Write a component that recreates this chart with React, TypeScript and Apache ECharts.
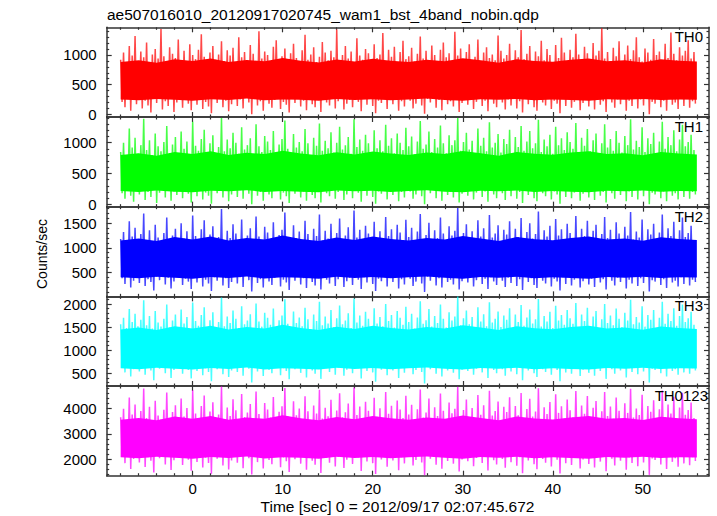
import React, { useEffect, useRef } from "react";
import * as echarts from "echarts";

// ---- data (counts/sec) ----
const TITLE = "ae507016010_20120917020745_wam1_bst_4band_nobin.qdp";
const X_TITLE = "Time [sec] 0 = 2012/09/17 02:07:45.672";
const Y_TITLE = "Counts/sec";
const PANEL_NAMES = ["TH0", "TH1", "TH2", "TH3", "TH0123"];
const PANEL_COLORS = ["#ff0000", "#00ff00", "#0000ff", "#00ffff", "#ff00ff"];

const T_START = -8; // first sample time (s)
const T_STEP = 0.16; // time between consecutive samples (s)
const X_MAJOR = [0, 10, 20, 30, 40, 50];
const X_MINOR = [-8, -6, -4, -2, 2, 4, 6, 8, 12, 14, 16, 18, 22, 24, 26, 28, 32, 34, 36, 38, 42, 44, 46, 48, 52, 54, 56];

const Y_RANGES = [
  [-45, 1467],
  [-38, 1417],
  [9, 1840],
  [225, 2166],
  [1357, 4874],
];
const Y_MAJOR = [
  [0, 500, 1000],
  [0, 500, 1000],
  [500, 1000, 1500],
  [500, 1000, 1500, 2000],
  [2000, 3000, 4000],
];
const Y_MINOR = [
  [100, 200, 300, 400, 600, 700, 800, 900, 1100, 1200, 1300, 1400],
  [100, 200, 300, 400, 600, 700, 800, 900, 1100, 1200, 1300, 1400],
  [100, 200, 300, 400, 600, 700, 800, 900, 1100, 1200, 1300, 1400, 1600, 1700, 1800],
  [300, 400, 600, 700, 800, 900, 1100, 1200, 1300, 1400, 1600, 1700, 1800, 1900, 2100],
  [1400, 1600, 1800, 2200, 2400, 2600, 2800, 3200, 3400, 3600, 3800, 4200, 4400, 4600, 4800],
];

// upper excursions (one every 0.32 s) and lower excursions (in between)
const th0High = [
  920, 1040, 880, 1150, 990, 1320, 900, 1060, 960, 1210, 870, 1010, 1100, 940, 1440, 980, 890, 1130, 1020, 950,
  1260, 910, 1070, 860, 1180, 1000, 930, 1090, 1350, 970, 880, 1040, 1150, 920, 1010, 1230, 900, 1080, 990, 1120,
  870, 1300, 960, 1050, 910, 1170, 1020, 880, 1400, 940, 1060, 1000, 890, 1140, 1250, 930, 980, 1110, 870, 1030,
  1190, 950, 900, 1080, 1340, 920, 1010, 1130, 880, 970, 1220, 1040, 910, 1070, 960, 1430, 890, 1000, 1150, 940,
  1060, 870, 1280, 990, 920, 1100, 1030, 880, 1180, 950, 1010, 1370, 900, 1090, 970, 1140, 860, 1050, 1240, 930,
  980, 1120, 890, 1020, 1310, 940, 1070, 910, 1160, 1000, 870, 1090, 1210, 960, 1030, 880, 1390, 990, 1110, 920,
  1050, 1180, 900, 970, 1260, 880, 1040, 1130, 950, 1010, 910, 1330, 1070, 940, 1000, 1190, 870, 1080, 960, 1420,
  930, 1020, 1150, 890, 1060, 980, 1240, 910, 1100, 1000, 870, 1170, 950, 1290, 1040, 900, 1090, 960, 1360, 1010,
  880, 1140, 1030, 920, 1200, 990, 1070, 1450, 940, 1050, 900, 1120, 980, 1230, 870, 1010, 1160, 930, 1080, 1300,
  960, 890, 1110, 1040, 920, 1270, 1000, 1060, 880, 1190, 950, 1380, 1020, 910, 1130, 990, 1070, 1250, 940, 1050,
];
const th0Low = [
  210, 120, 290, 60, 250, 170, 320, 100, 230, 150, 30, 270, 190, 310, 80, 220, 140, 260, 40, 200,
  300, 110, 240, 180, 70, 280, 160, 330, 90, 210, 130, 20, 260, 190, 300, 120, 230, 50, 170, 290,
  140, 250, 100, 310, 200, 0, 270, 150, 220, 60, 320, 180, 110, 240, 280, 90, 210, 160, 30, 260,
  190, 300, 130, 230, 70, 280, 170, 120, 250, 40, 310, 200, 150, 270, 100, 220, 330, 80, 180, 240,
  120, 290, 210, 50, 260, 160, 310, 140, 20, 230, 190, 280, 90, 250, 170, 300, 60, 220, 130, 270,
  230, 100, 180, 320, 150, 10, 260, 200, 290, 110, 240, 70, 300, 170, 220, 130, 280, 40, 190, 250,
  160, 270, 90, 210, 310, 140, 230, 50, 260, 180, 120, 300, 200, 80, 250, 150, 320, 100, 220, 30,
  280, 170, 240, 120, 60, 290, 200, 150, 310, 90, 230, 180, 20, 260, 140, 300, 110, 210, 250, 70,
  190, 320, 130, 240, 80, 270, 160, 220, 40, 290, 200, 110, 250, 170, 310, 60, 230, 140, 280, 100,
  250, 150, 300, 0, 210, 180, 270, 120, 230, 60, 290, 160, 200, 90, 260, 140, 310, 110, 220, 180,
];

const th1High = [
  850, 1000, 790, 1230, 920, 1080, 820, 960, 1390, 880, 1040, 800, 1150, 940, 860, 1010, 1270, 830, 970, 1090,
  810, 1180, 900, 1020, 790, 1340, 950, 870, 1060, 1210, 840, 990, 1120, 800, 930, 1400, 860, 1050, 910, 1160,
  1000, 820, 1250, 890, 960, 1070, 790, 1300, 940, 850, 1110, 1020, 880, 1190, 810, 970, 1060, 1360, 900, 830,
  1140, 920, 1010, 860, 1220, 990, 800, 1080, 950, 1310, 870, 1030, 910, 1170, 840, 1000, 1260, 890, 960, 1090,
  820, 1380, 930, 1050, 870, 1130, 990, 800, 1200, 910, 1040, 860, 1290, 950, 1070, 830, 1150, 1000, 880, 1240,
  940, 1100, 810, 1020, 1350, 900, 970, 1180, 850, 1060, 920, 1280, 990, 830, 1120, 960, 1040, 1400, 870, 1010,
  1160, 890, 1030, 800, 1230, 950, 1080, 860, 1330, 920, 1000, 1140, 840, 1060, 980, 1210, 810, 1090, 930, 1270,
  870, 1020, 1190, 910, 990, 1370, 850, 1050, 940, 1130, 820, 1260, 960, 1070, 880, 1170, 1010, 900, 1320, 830,
  1080, 950, 1220, 860, 1040, 1150, 800, 990, 1300, 920, 1060, 870, 1190, 1000, 840, 1110, 960, 1380, 890, 1030,
  930, 1250, 850, 1070, 980, 1160, 820, 1020, 1340, 900, 1090, 960, 1200, 860, 1050, 1290, 940, 1010, 1130, 880,
];
const th1Low = [
  180, 90, 250, 140, 40, 220, 160, 290, 70, 200, 120, 260, 20, 190, 240, 110, 280, 60, 210, 150,
  270, 100, 230, 170, 30, 250, 130, 300, 80, 190, 140, 10, 240, 180, 280, 110, 220, 50, 160, 260,
  120, 230, 90, 290, 170, 0, 250, 140, 200, 60, 300, 160, 100, 220, 270, 80, 190, 130, 20, 240,
  170, 280, 110, 210, 60, 260, 150, 100, 230, 30, 290, 180, 130, 250, 90, 200, 310, 70, 160, 220,
  100, 270, 190, 40, 240, 140, 290, 120, 10, 210, 170, 260, 80, 230, 150, 280, 50, 200, 110, 250,
  210, 90, 160, 300, 130, 0, 240, 180, 270, 100, 220, 60, 280, 150, 200, 110, 260, 30, 170, 230,
  140, 250, 80, 190, 290, 120, 210, 40, 240, 160, 100, 280, 180, 70, 230, 130, 300, 90, 200, 20,
  260, 150, 220, 100, 50, 270, 180, 130, 290, 80, 210, 160, 10, 240, 120, 280, 100, 190, 230, 60,
  170, 300, 110, 220, 70, 250, 140, 200, 30, 270, 180, 90, 230, 150, 290, 50, 210, 120, 260, 80,
  230, 130, 280, 0, 190, 160, 250, 100, 210, 50, 270, 140, 180, 80, 240, 120, 290, 90, 200, 160,
];

const th2High = [
  1180, 1320, 1090, 1540, 1230, 1410, 1120, 1280, 1700, 1150, 1360, 1070, 1470, 1210, 1130, 1300, 1620, 1100, 1250, 1390,
  1080, 1500, 1190, 1340, 1060, 1660, 1240, 1140, 1380, 1560, 1110, 1270, 1440, 1070, 1220, 1790, 1130, 1350, 1200, 1480,
  1290, 1090, 1580, 1170, 1250, 1400, 1060, 1640, 1230, 1120, 1430, 1310, 1160, 1520, 1080, 1260, 1370, 1720, 1180, 1100,
  1460, 1200, 1330, 1130, 1550, 1280, 1070, 1390, 1240, 1680, 1150, 1350, 1190, 1490, 1110, 1300, 1600, 1170, 1250, 1420,
  1090, 1760, 1210, 1370, 1140, 1450, 1290, 1070, 1530, 1190, 1340, 1130, 1630, 1240, 1380, 1100, 1470, 1310, 1160, 1570,
  1220, 1410, 1080, 1330, 1690, 1180, 1260, 1510, 1120, 1360, 1200, 1620, 1290, 1100, 1440, 1250, 1350, 1810, 1150, 1300,
  1480, 1170, 1340, 1070, 1560, 1230, 1400, 1130, 1670, 1210, 1290, 1460, 1110, 1370, 1270, 1540, 1080, 1390, 1220, 1610,
  1140, 1320, 1500, 1190, 1280, 1740, 1120, 1360, 1230, 1450, 1090, 1590, 1250, 1380, 1160, 1490, 1300, 1180, 1650, 1100,
  1390, 1240, 1550, 1130, 1350, 1470, 1070, 1280, 1630, 1200, 1370, 1150, 1520, 1290, 1110, 1430, 1250, 1730, 1170, 1330,
  1210, 1580, 1120, 1380, 1270, 1490, 1090, 1310, 1680, 1180, 1400, 1240, 1530, 1140, 1360, 1620, 1220, 1300, 1450, 1160,
];
const th2Low = [
  380, 260, 450, 190, 330, 420, 280, 480, 220, 360, 300, 130, 410, 340, 470, 250, 390, 170, 310, 440,
  460, 240, 370, 310, 160, 430, 290, 490, 210, 350, 270, 120, 400, 330, 450, 230, 380, 180, 300, 420,
  270, 400, 200, 470, 340, 110, 430, 280, 360, 190, 480, 310, 240, 390, 440, 210, 350, 290, 140, 410,
  330, 450, 250, 380, 180, 440, 300, 230, 410, 150, 470, 350, 270, 420, 220, 360, 490, 200, 320, 390,
  240, 430, 350, 160, 400, 290, 460, 260, 120, 370, 320, 440, 210, 390, 300, 470, 170, 360, 250, 420,
  370, 220, 310, 480, 270, 100, 410, 330, 450, 230, 380, 190, 460, 300, 350, 250, 430, 150, 320, 390,
  290, 420, 210, 340, 470, 260, 370, 160, 400, 310, 240, 450, 330, 200, 390, 280, 490, 220, 360, 140,
  430, 300, 380, 240, 180, 440, 330, 270, 470, 210, 370, 310, 130, 400, 260, 450, 230, 350, 390, 190,
  320, 480, 250, 370, 200, 420, 290, 360, 150, 440, 330, 230, 390, 300, 460, 170, 350, 270, 430, 220,
  380, 280, 450, 110, 340, 310, 420, 240, 360, 180, 440, 290, 330, 210, 400, 260, 470, 230, 350, 300,
];

const th3High = [
  1560, 1700, 1480, 1890, 1610, 1790, 1520, 1660, 2080, 1540, 1740, 1470, 1850, 1600, 1510, 1680, 1990, 1490, 1640, 1770,
  1470, 1880, 1580, 1720, 1450, 2030, 1630, 1530, 1760, 1930, 1500, 1650, 1820, 1460, 1610, 2140, 1520, 1730, 1590, 1860,
  1680, 1480, 1950, 1560, 1640, 1780, 1450, 2010, 1620, 1510, 1810, 1700, 1550, 1900, 1470, 1650, 1750, 2100, 1570, 1490,
  1840, 1590, 1710, 1520, 1920, 1670, 1460, 1770, 1630, 2050, 1540, 1730, 1580, 1870, 1500, 1690, 1970, 1560, 1640, 1800,
  1480, 2120, 1600, 1750, 1530, 1830, 1680, 1460, 1910, 1580, 1720, 1520, 2000, 1630, 1760, 1490, 1850, 1700, 1550, 1940,
  1610, 1790, 1470, 1710, 2060, 1570, 1650, 1890, 1510, 1740, 1590, 1990, 1680, 1490, 1820, 1640, 1730, 2160, 1540, 1690,
  1860, 1560, 1720, 1460, 1930, 1620, 1780, 1520, 2040, 1600, 1680, 1840, 1500, 1750, 1660, 1910, 1470, 1770, 1610, 1980,
  1530, 1710, 1880, 1580, 1670, 2110, 1510, 1740, 1620, 1830, 1480, 1960, 1640, 1760, 1550, 1870, 1690, 1570, 2020, 1490,
  1770, 1630, 1920, 1520, 1730, 1850, 1460, 1670, 2000, 1590, 1750, 1540, 1900, 1680, 1500, 1810, 1640, 2090, 1560, 1720,
  1600, 1950, 1510, 1760, 1660, 1870, 1480, 1700, 2050, 1570, 1790, 1630, 1910, 1530, 1740, 1990, 1610, 1690, 1830, 1550,
];
const th3Low = [
  640, 520, 710, 430, 590, 680, 540, 740, 470, 620, 560, 350, 670, 600, 730, 500, 650, 400, 570, 700,
  720, 490, 630, 570, 390, 690, 550, 750, 460, 610, 530, 330, 660, 590, 710, 480, 640, 420, 560, 680,
  530, 660, 450, 730, 600, 300, 690, 540, 620, 440, 740, 570, 500, 650, 700, 460, 610, 550, 370, 670,
  590, 710, 510, 640, 410, 700, 560, 490, 670, 380, 730, 610, 530, 680, 470, 620, 750, 450, 580, 650,
  500, 690, 610, 390, 660, 550, 720, 520, 320, 630, 580, 700, 460, 650, 560, 730, 400, 620, 510, 680,
  630, 480, 570, 740, 530, 280, 670, 590, 710, 490, 640, 430, 720, 560, 610, 510, 690, 370, 580, 650,
  550, 680, 470, 600, 730, 520, 630, 400, 660, 570, 500, 710, 590, 450, 650, 540, 750, 480, 620, 350,
  690, 560, 640, 500, 420, 700, 590, 530, 730, 470, 630, 570, 330, 660, 520, 710, 490, 610, 650, 440,
  580, 740, 510, 630, 450, 680, 550, 620, 380, 700, 590, 490, 650, 560, 720, 410, 610, 530, 690, 480,
  640, 540, 710, 300, 600, 570, 680, 500, 620, 430, 700, 550, 590, 470, 660, 520, 730, 490, 610, 560,
];

const th0123High = [
  3650, 3980, 3520, 4420, 3760, 4150, 3580, 3890, 4780, 3620, 4060, 3500, 4300, 3720, 3560, 3940, 4620, 3540, 3850, 4120,
  3510, 4380, 3680, 4010, 3450, 4710, 3800, 3590, 4090, 4500, 3530, 3870, 4240, 3480, 3760, 4850, 3570, 4030, 3700, 4350,
  3920, 3520, 4560, 3660, 3830, 4170, 3460, 4660, 3780, 3550, 4210, 3950, 3640, 4440, 3490, 3860, 4080, 4800, 3690, 3540,
  4280, 3730, 3990, 3580, 4470, 3880, 3470, 4110, 3800, 4730, 3600, 4020, 3690, 4330, 3520, 3910, 4590, 3650, 3840, 4190,
  3500, 4820, 3740, 4070, 3570, 4260, 3900, 3460, 4410, 3670, 4000, 3560, 4640, 3790, 4100, 3510, 4310, 3950, 3620, 4490,
  3760, 4140, 3480, 3960, 4740, 3640, 3830, 4380, 3540, 4040, 3700, 4580, 3900, 3520, 4230, 3810, 3980, 4840, 3590, 3930,
  4340, 3630, 4010, 3470, 4520, 3750, 4120, 3560, 4690, 3720, 3890, 4270, 3520, 4060, 3850, 4430, 3480, 4090, 3730, 4600,
  3580, 3970, 4370, 3680, 3870, 4790, 3530, 4040, 3780, 4250, 3490, 4550, 3820, 4080, 3600, 4340, 3920, 3650, 4680, 3510,
  4110, 3790, 4480, 3550, 4020, 4290, 3460, 3880, 4640, 3700, 4070, 3590, 4420, 3900, 3510, 4200, 3820, 4770, 3640, 3990,
  3740, 4530, 3540, 4090, 3860, 4320, 3490, 3960, 4700, 3660, 4150, 3800, 4450, 3570, 4030, 4610, 3750, 3930, 4230, 3620,
];
const th0123Low = [
  2120, 1850, 2280, 1620, 2010, 2210, 1880, 2330, 1700, 2080, 1940, 1480, 2190, 2040, 2300, 1800, 2150, 1580, 1960, 2250,
  2290, 1780, 2100, 1980, 1550, 2230, 1900, 2350, 1680, 2060, 1860, 1430, 2170, 2020, 2270, 1760, 2130, 1600, 1950, 2200,
  1870, 2160, 1650, 2320, 2040, 1400, 2240, 1890, 2090, 1640, 2340, 1970, 1810, 2140, 2260, 1690, 2070, 1920, 1500, 2190,
  2000, 2280, 1830, 2110, 1590, 2250, 1940, 1790, 2180, 1460, 2310, 2050, 1870, 2220, 1720, 2090, 2360, 1660, 1980, 2150,
  1820, 2240, 2070, 1540, 2170, 1910, 2300, 1850, 1420, 2120, 1990, 2260, 1710, 2140, 1950, 2320, 1570, 2080, 1840, 2230,
  2110, 1760, 1970, 2340, 1880, 1380, 2200, 2020, 2290, 1790, 2130, 1630, 2310, 1930, 2060, 1830, 2250, 1520, 1990, 2160,
  1920, 2230, 1730, 2050, 2330, 1860, 2100, 1560, 2190, 1960, 1800, 2280, 2010, 1670, 2150, 1890, 2350, 1750, 2080, 1450,
  2260, 1950, 2140, 1810, 1610, 2290, 2010, 1870, 2320, 1720, 2110, 1980, 1440, 2200, 1850, 2300, 1780, 2060, 2170, 1640,
  1990, 2340, 1820, 2120, 1680, 2250, 1910, 2090, 1530, 2280, 2020, 1760, 2180, 1940, 2310, 1590, 2070, 1860, 2240, 1730,
  2130, 1880, 2290, 1390, 2030, 1970, 2230, 1800, 2100, 1620, 2270, 1900, 2040, 1710, 2190, 1840, 2330, 1770, 2080, 1930,
];

// dense core of each light curve, every 2 s
const CORE_T = [-8, -6, -4, -2, 0, 2, 4, 6, 8, 10, 12, 14, 16, 18, 20, 22, 24, 26, 28, 30, 32, 34, 36, 38, 40, 42, 44, 46, 48, 50, 52, 54, 56];
const th0CoreLow = [250, 235, 260, 245, 230, 255, 240, 265, 235, 250, 245, 230, 260, 240, 255, 235, 250, 265, 240, 230, 255, 245, 260, 235, 250, 240, 230, 255, 245, 260, 240, 250, 245];
const th0CoreHigh = [880, 910, 870, 930, 900, 940, 880, 915, 895, 950, 905, 875, 925, 890, 935, 905, 880, 920, 895, 945, 910, 870, 930, 900, 885, 920, 940, 895, 910, 875, 930, 905, 890];
const th1CoreLow = [215, 200, 225, 205, 195, 220, 210, 230, 200, 215, 205, 195, 225, 210, 220, 200, 215, 230, 205, 195, 220, 210, 225, 200, 215, 205, 195, 220, 210, 225, 205, 215, 210];
const th1CoreHigh = [800, 830, 790, 850, 815, 860, 800, 835, 815, 870, 825, 795, 845, 810, 855, 825, 800, 840, 815, 865, 830, 790, 850, 820, 805, 840, 860, 815, 830, 795, 850, 825, 810];
const th2CoreLow = [400, 380, 410, 390, 370, 405, 385, 415, 375, 400, 390, 370, 410, 385, 405, 380, 400, 415, 390, 370, 405, 390, 410, 380, 400, 385, 370, 405, 390, 410, 385, 400, 395];
const th2CoreHigh = [1150, 1190, 1140, 1220, 1170, 1230, 1150, 1200, 1170, 1250, 1180, 1140, 1210, 1160, 1230, 1180, 1150, 1200, 1170, 1240, 1190, 1140, 1220, 1175, 1155, 1200, 1230, 1170, 1190, 1145, 1215, 1180, 1160];
const th3CoreLow = [610, 590, 620, 600, 580, 615, 595, 625, 585, 610, 600, 580, 620, 595, 615, 590, 610, 625, 600, 580, 615, 600, 620, 590, 610, 595, 580, 615, 600, 620, 595, 610, 605];
const th3CoreHigh = [1450, 1490, 1440, 1520, 1470, 1530, 1450, 1500, 1470, 1550, 1480, 1440, 1510, 1460, 1530, 1480, 1450, 1500, 1470, 1540, 1490, 1440, 1520, 1475, 1455, 1500, 1530, 1470, 1490, 1445, 1515, 1480, 1460];
const th0123CoreLow = [2080, 2040, 2100, 2060, 2020, 2090, 2050, 2110, 2030, 2080, 2060, 2020, 2100, 2050, 2090, 2040, 2080, 2110, 2060, 2020, 2090, 2060, 2100, 2040, 2080, 2050, 2020, 2090, 2060, 2100, 2050, 2080, 2070];
const th0123CoreHigh = [3550, 3620, 3530, 3680, 3590, 3700, 3550, 3640, 3590, 3730, 3610, 3530, 3660, 3570, 3700, 3610, 3550, 3640, 3590, 3720, 3620, 3530, 3680, 3600, 3560, 3640, 3700, 3590, 3620, 3540, 3670, 3610, 3570];

const HIGHS = [th0High, th1High, th2High, th3High, th0123High];
const LOWS = [th0Low, th1Low, th2Low, th3Low, th0123Low];
const CORE_LOWS = [th0CoreLow, th1CoreLow, th2CoreLow, th3CoreLow, th0123CoreLow];
const CORE_HIGHS = [th0CoreHigh, th1CoreHigh, th2CoreHigh, th3CoreHigh, th0123CoreHigh];

// ---- layout ----
const X_MIN = -9.55;
const X_MAX = 57.35;
const GRID_LEFT = 106.7;
const GRID_RIGHT = 8;
const GRID_TOP = 27.3;
const PANEL_H = 89.68;
const FONT = "'Liberation Sans', Arial, Helvetica, sans-serif";
const AXIS_COLOR = "#333";

function zigzag(high: number[], low: number[]) {
  const pts: number[][] = [];
  for (let k = 0; k < high.length; k++) {
    pts.push([T_START + 2 * k * T_STEP, high[k]]);
    pts.push([T_START + (2 * k + 1) * T_STEP, low[k]]);
  }
  return pts;
}

function buildOption() {
  const axisLineStyle = { color: AXIS_COLOR, width: 1.5 };
  const tickStyle = { color: AXIS_COLOR, width: 1.2 };
  const fmt = (v: number) => String(v);
  const grid: any[] = [];
  const xAxis: any[] = [];
  const yAxis: any[] = [];
  const series: any[] = [];
  const graphic: any[] = [];

  for (let i = 0; i < 5; i++) {
    const top = GRID_TOP + i * PANEL_H;
    grid.push({ left: GRID_LEFT, right: GRID_RIGHT, top, height: PANEL_H, show: false });

    const xb = { gridIndex: i, type: "value", min: X_MIN, max: X_MAX, splitLine: { show: false } };
    for (const pos of ["bottom", "top"]) {
      xAxis.push({
        ...xb,
        position: pos,
        axisLine: { show: true, onZero: false, lineStyle: axisLineStyle },
        axisTick: { show: true, inside: true, length: 5, customValues: X_MAJOR, lineStyle: tickStyle },
        axisLabel: {
          show: pos === "bottom" && i === 4,
          customValues: X_MAJOR,
          formatter: fmt,
          margin: 5,
          color: "#000",
          fontSize: 15,
          fontFamily: FONT,
        },
      });
      xAxis.push({
        ...xb,
        position: pos,
        axisLine: { show: false, onZero: false },
        axisTick: { show: true, inside: true, length: 2.5, customValues: X_MINOR, lineStyle: tickStyle },
        axisLabel: { show: false },
      });
    }

    const yb = { gridIndex: i, type: "value", min: Y_RANGES[i][0], max: Y_RANGES[i][1], splitLine: { show: false } };
    for (const pos of ["left", "right"]) {
      yAxis.push({
        ...yb,
        position: pos,
        axisLine: { show: true, onZero: false, lineStyle: axisLineStyle },
        axisTick: { show: true, inside: true, length: 5, customValues: Y_MAJOR[i], lineStyle: tickStyle },
        axisLabel: {
          show: pos === "left",
          customValues: Y_MAJOR[i],
          formatter: fmt,
          margin: 10,
          color: "#000",
          fontSize: 15,
          fontFamily: FONT,
        },
      });
      yAxis.push({
        ...yb,
        position: pos,
        axisLine: { show: false, onZero: false },
        axisTick: { show: true, inside: true, length: 2.5, customValues: Y_MINOR[i], lineStyle: tickStyle },
        axisLabel: { show: false },
      });
    }

    const color = PANEL_COLORS[i];
    const cLow = CORE_LOWS[i];
    const cHigh = CORE_HIGHS[i];
    series.push({
      type: "custom",
      xAxisIndex: 4 * i,
      yAxisIndex: 4 * i,
      silent: true,
      z: 1,
      data: CORE_T.map((t, k) => [t, cLow[k], cHigh[k]]),
      encode: { x: 0, y: [1, 2] },
      renderItem: (params: any, api: any) => {
        if (params.dataIndex !== 0) return null;
        const upper = CORE_T.map((t, k) => api.coord([t, cHigh[k]]));
        const lower = CORE_T.map((t, k) => api.coord([t, cLow[k]])).reverse();
        return {
          type: "polygon",
          shape: { points: upper.concat(lower) },
          style: { fill: color },
        };
      },
    });
    series.push({
      type: "line",
      xAxisIndex: 4 * i,
      yAxisIndex: 4 * i,
      data: zigzag(HIGHS[i], LOWS[i]),
      symbol: "none",
      silent: true,
      z: 2,
      lineStyle: { color, width: 1.5, opacity: 0.72 },
    });

    graphic.push({
      type: "text",
      x: i === 4 ? 708 : 703,
      y: top + 2,
      style: {
        text: PANEL_NAMES[i],
        align: "right",
        verticalAlign: "top",
        font: `15px ${FONT}`,
        fill: "#000",
      },
      z: 10,
    });
  }

  graphic.push({
    type: "text",
    x: 107,
    y: 14.6,
    style: { text: TITLE, align: "left", verticalAlign: "middle", font: `15.5px ${FONT}`, fill: "#000" },
  });
  graphic.push({
    type: "text",
    x: 397.5,
    y: 506,
    style: { text: X_TITLE, align: "center", verticalAlign: "middle", font: `15.5px ${FONT}`, fill: "#000" },
  });
  graphic.push({
    type: "text",
    x: 42,
    y: 254,
    rotation: Math.PI / 2,
    style: { text: Y_TITLE, align: "center", verticalAlign: "middle", font: `14px ${FONT}`, fill: "#000" },
  });

  return {
    animation: false,
    backgroundColor: "#fff",
    grid,
    xAxis,
    yAxis,
    series,
    graphic,
  };
}

export default function App() {
  const ref = useRef<HTMLDivElement>(null);
  useEffect(() => {
    if (!ref.current) return;
    const chart = echarts.init(ref.current, null, { renderer: "svg" });
    chart.setOption(buildOption() as any);
    return () => chart.dispose();
  }, []);
  return (
    <div
      ref={ref}
      style={{ position: "fixed", left: 0, top: 0, width: 717, height: 516, background: "#fff" }}
    />
  );
}
